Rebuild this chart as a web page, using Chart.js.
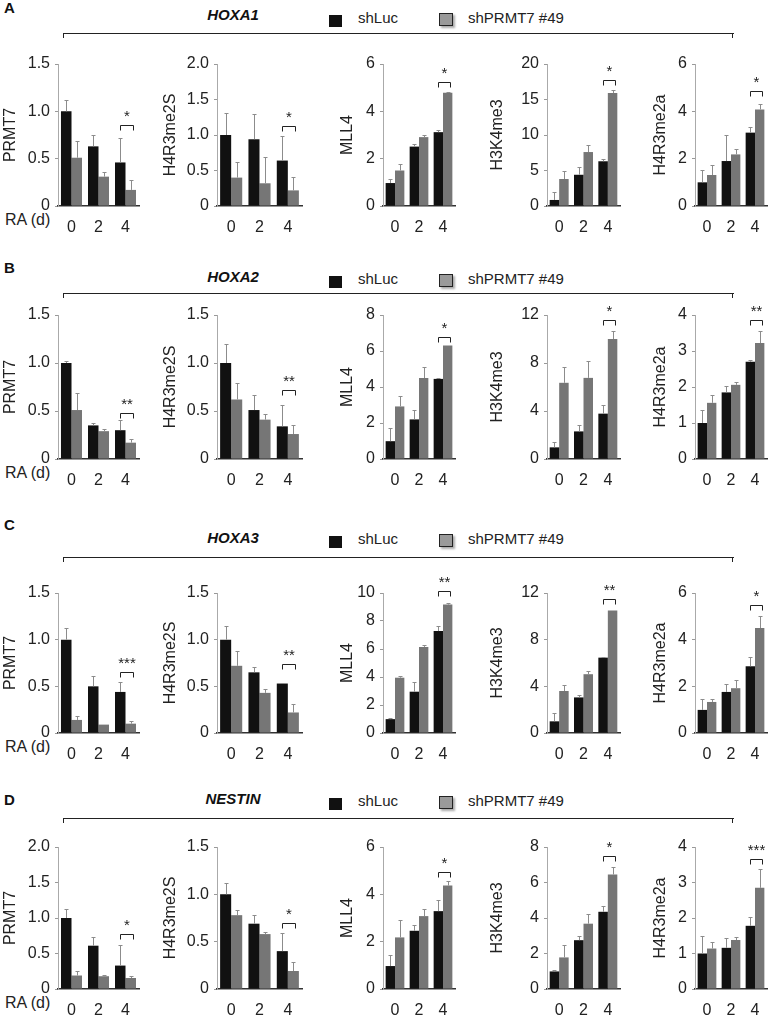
<!DOCTYPE html>
<html>
<head>
<meta charset="utf-8">
<script src="https://cdn.jsdelivr.net/npm/chart.js@4.4.0/dist/chart.umd.min.js"></script>
<style>
body { margin: 0; background: #fff; font-family: "Liberation Sans", Arial, sans-serif; color: #111; }
#page { position: relative; width: 770px; height: 1017px; overflow: hidden; }
.abs { position: absolute; white-space: nowrap; }
.letter { font-size: 15px; font-weight: bold; line-height: 16px; }
.gene { font-size: 15px; font-weight: bold; font-style: italic; line-height: 18px; transform: translateX(-50%); }
.legtxt { font-size: 15px; line-height: 18px; color: #222; }
.sqBlack { width: 13px; height: 12px; background: #111; }
.sqGray { width: 12px; height: 11px; background: #9a9a9a; border: 1.5px solid #222; box-shadow: 2px 2px 2px #aaa; }
.hline { height: 0; border-top: 1.5px solid #222; }
.vtick { width: 0; height: 5px; border-left: 1.5px solid #222; }
.ra { font-size: 16px; line-height: 19px; color: #222; }
</style>
</head>
<body>
<div id="page"></div>
<script>
const days = ['0', '2', '4'];
const genes = ['HOXA1', 'HOXA2', 'HOXA3', 'NESTIN'];
const panelLetters = ['A', 'B', 'C', 'D'];
const marks = ['PRMT7', 'H4R3me2S', 'MLL4', 'H3K4me3', 'H4R3me2a'];
const seriesNames = ['shLuc', 'shPRMT7 #49'];

// means per mark (rows: PRMT7, H4R3me2S, MLL4, H3K4me3, H4R3me2a), days 0/2/4
const lucHOXA1 = [[1.0, 0.63, 0.46], [1.0, 0.94, 0.64], [0.97, 2.51, 3.12], [0.85, 4.4, 6.3], [1.0, 1.9, 3.1]];
const kdHOXA1  = [[0.51, 0.31, 0.17], [0.40, 0.32, 0.22], [1.5, 2.91, 4.78], [3.8, 7.6, 15.9], [1.31, 2.18, 4.08]];
const lucErrHOXA1 = [[0.12, 0.12, 0.26], [0.31, 0.35, 0.35], [0.18, 0.09, 0.11], [1.15, 1.1, 0.35], [0.53, 1.08, 0.25]];
const kdErrHOXA1  = [[0.18, 0.05, 0.10], [0.22, 0.37, 0.19], [0.28, 0.11, 0.05], [1.1, 1.0, 0.4], [0.43, 0.21, 0.21]];

const lucHOXA2 = [[1.0, 0.35, 0.30], [1.0, 0.51, 0.34], [0.99, 2.2, 4.45], [0.97, 2.3, 3.78], [1.0, 1.85, 2.7]];
const kdHOXA2  = [[0.51, 0.29, 0.17], [0.62, 0.41, 0.26], [2.92, 4.5, 6.3], [6.35, 6.76, 10.0], [1.56, 2.06, 3.22]];
const lucErrHOXA2 = [[0.02, 0.02, 0.11], [0.2, 0.16, 0.22], [0.76, 0.5, 0.05], [0.46, 0.5, 0.69], [0.37, 0.19, 0.06]];
const kdErrHOXA2  = [[0.18, 0.02, 0.04], [0.17, 0.06, 0.09], [0.58, 0.6, 0.0], [1.35, 1.44, 0.7], [0.23, 0.09, 0.34]];

const lucHOXA3 = [[1.0, 0.5, 0.44], [1.0, 0.65, 0.53], [0.99, 2.95, 7.28], [1.0, 3.05, 6.46], [0.99, 1.76, 2.86]];
const kdHOXA3  = [[0.14, 0.09, 0.10], [0.72, 0.43, 0.22], [3.95, 6.15, 9.17], [3.6, 5.04, 10.5], [1.33, 1.92, 4.5]];
const lucErrHOXA3 = [[0.13, 0.11, 0.11], [0.15, 0.06, 0.01], [0.11, 0.71, 0.36], [0.7, 0.22, 0.04], [0.45, 0.36, 0.4]];
const kdErrHOXA3  = [[0.04, 0.0, 0.03], [0.16, 0.04, 0.09], [0.15, 0.11, 0.13], [0.5, 0.26, 0.0], [0.14, 0.35, 0.51]];

const lucNESTIN = [[1.0, 0.61, 0.33], [1.0, 0.69, 0.40], [0.97, 2.46, 3.29], [0.99, 2.75, 4.35], [1.0, 1.16, 1.78]];
const kdNESTIN  = [[0.19, 0.18, 0.155], [0.78, 0.58, 0.19], [2.18, 3.08, 4.37], [1.78, 3.68, 6.45], [1.14, 1.38, 2.85]];
const lucErrNESTIN = [[0.12, 0.12, 0.29], [0.12, 0.09, 0.19], [0.45, 0.23, 0.45], [0.09, 0.25, 0.34], [0.49, 0.27, 0.26]];
const kdErrNESTIN  = [[0.06, 0.02, 0.03], [0.05, 0.02, 0.10], [0.74, 0.31, 0.21], [0.72, 0.52, 0.44], [0.18, 0.09, 0.53]];

// y axis max / tick step per panel and mark
const yMax  = [[1.5, 2.0, 6, 20, 6], [1.5, 1.5, 8, 12, 4], [1.5, 1.5, 10, 12, 6], [2.0, 1.5, 6, 8, 4]];
const yStep = [[0.5, 0.5, 2, 5, 2], [0.5, 0.5, 2, 4, 1], [0.5, 0.5, 2, 4, 2], [0.5, 0.5, 2, 2, 1]];

// significance on day 4: stars and the level of the bracket (data units)
const sigStars = [['*', '*', '*', '*', '*'], ['**', '**', '*', '*', '**'], ['***', '**', '**', '**', '*'], ['*', '*', '*', '*', '***']];
const sigLevel = [[0.855, 1.13, 5.22, 17.8, 4.87], [0.48, 0.72, 6.8, 11.6, 3.86], [0.65, 0.74, 10.15, 11.45, 5.5], [0.77, 0.70, 4.96, 7.47, 3.67]];

const lucMeans = [lucHOXA1, lucHOXA2, lucHOXA3, lucNESTIN];
const kdMeans = [kdHOXA1, kdHOXA2, kdHOXA3, kdNESTIN];
const lucErrs = [lucErrHOXA1, lucErrHOXA2, lucErrHOXA3, lucErrNESTIN];
const kdErrs = [kdErrHOXA1, kdErrHOXA2, kdErrHOXA3, kdErrNESTIN];

// layout
const colAxisX = [58, 217, 383, 547, 695];
const colEndX = [139, 302, 455, 620, 767];
const colTitleX = [10, 170, 347, 497, 660];
const panels = [
    { top: 64, zero: 206, letterY: 0, titleY: 6, legendY: 9, lineY: 33 },
    { top: 315, zero: 459, letterY: 260, titleY: 268, legendY: 270, lineY: 293 },
    { top: 593, zero: 733, letterY: 517, titleY: 529, legendY: 530, lineY: 557 },
    { top: 847, zero: 989, letterY: 792, titleY: 790, legendY: 792, lineY: 818 }
];

Chart.defaults.font.family = '"Liberation Sans", Arial, sans-serif';
const page = document.getElementById('page');

function addDiv(cls, left, top, text) {
    const d = document.createElement('div');
    d.className = 'abs ' + cls;
    d.style.left = left + 'px';
    d.style.top = top + 'px';
    if (text) d.textContent = text;
    page.appendChild(d);
    return d;
}

// error bars + significance bracket
const errSigPlugin = {
    id: 'sig',
    afterDatasetsDraw(chart, args, opts) {
        const ctx = chart.ctx;
        const y = chart.scales.y;
        ctx.save();
        ctx.lineWidth = 1;
        chart.data.datasets.forEach((ds, i) => {
            chart.getDatasetMeta(i).data.forEach((bar, j) => {
                const sd = ds.errors[j];
                if (!sd) return;
                const x = Math.round(bar.x) + 0.5;
                const yTop = Math.round(y.getPixelForValue(ds.data[j] + sd)) + 0.5;
                ctx.strokeStyle = '#8c8c8c';
                ctx.beginPath();
                ctx.moveTo(x, bar.y);
                ctx.lineTo(x, yTop);
                ctx.moveTo(x - 2, yTop);
                ctx.lineTo(x + 2, yTop);
                ctx.stroke();
            });
        });
        const b0 = chart.getDatasetMeta(0).data[2];
        const b1 = chart.getDatasetMeta(1).data[2];
        const ly = Math.round(y.getPixelForValue(opts.level)) + 0.5;
        const x1 = Math.round(b0.x) + 0.5;
        const x2 = Math.round(b1.x + 2) + 0.5;
        ctx.strokeStyle = '#222';
        ctx.beginPath();
        ctx.moveTo(x1, ly + 5);
        ctx.lineTo(x1, ly);
        ctx.lineTo(x2, ly);
        ctx.lineTo(x2, ly + 5);
        ctx.stroke();
        ctx.fillStyle = '#222';
        ctx.font = '15px "Liberation Sans", Arial, sans-serif';
        ctx.textAlign = 'center';
        ctx.textBaseline = 'bottom';
        ctx.fillText(opts.stars, (x1 + x2) / 2, ly - 1);
        ctx.restore();
    }
};

function makeChart(p, c) {
    const pan = panels[p];
    const padTop = 34, xH = 26;
    const left = colTitleX[c] - 9;
    const width = colEndX[c] + 4 - left;
    const height = padTop + (pan.zero - pan.top) + xH;
    const cv = document.createElement('canvas');
    cv.width = width;
    cv.height = height;
    cv.style.cssText = `position:absolute;left:${left}px;top:${pan.top - padTop}px;width:${width}px;height:${height}px;`;
    page.appendChild(cv);

    const frac = yMax[p][c] <= 2;
    new Chart(cv, {
        type: 'bar',
        data: {
            labels: days,
            datasets: [
                { label: seriesNames[0], data: lucMeans[p][c], errors: lucErrs[p][c], backgroundColor: '#111111',
                  categoryPercentage: 0.78, barPercentage: 1.0 },
                { label: seriesNames[1], data: kdMeans[p][c], errors: kdErrs[p][c], backgroundColor: '#767676',
                  categoryPercentage: 0.78, barPercentage: 1.0 }
            ]
        },
        options: {
            responsive: false,
            animation: false,
            devicePixelRatio: 1,
            layout: { padding: { top: padTop, right: 4, left: 0, bottom: 0 } },
            plugins: {
                legend: { display: false },
                tooltip: { enabled: false },
                sig: { stars: sigStars[p][c], level: sigLevel[p][c] }
            },
            scales: {
                x: {
                    grid: { display: false },
                    border: { color: '#333', width: 1.5 },
                    ticks: { color: '#222', font: { size: 16 }, padding: 4 },
                    afterFit: s => { s.height = xH; }
                },
                y: {
                    min: 0,
                    max: yMax[p][c],
                    ticks: {
                        stepSize: yStep[p][c],
                        color: '#222',
                        font: { size: 16 },
                        padding: 5,
                        callback: v => (v === 0 ? '0' : (frac ? v.toFixed(1) : String(v)))
                    },
                    grid: { drawOnChartArea: false, tickLength: 3, color: '#999' },
                    border: { color: '#aaa', width: 1 },
                    title: { display: true, text: marks[c], color: '#222', font: { size: 16 }, padding: 0 },
                    afterFit: s => { s.width = colAxisX[c] - left; }
                }
            }
        },
        plugins: [errSigPlugin]
    });
}

panels.forEach((pan, p) => {
    addDiv('letter', 4, pan.letterY, panelLetters[p]);
    addDiv('gene', 233, pan.titleY, genes[p]);
    addDiv('sqBlack', 329, pan.legendY + 6);
    addDiv('legtxt', 358, pan.legendY, seriesNames[0]);
    addDiv('sqGray', 439, pan.legendY + 4);
    addDiv('legtxt', 468, pan.legendY, seriesNames[1]);
    const line = addDiv('hline', 63, pan.lineY);
    line.style.width = '671px';
    addDiv('vtick', 63, pan.lineY);
    addDiv('vtick', 732, pan.lineY);
    addDiv('ra', 5, pan.zero + 4, 'RA (d)');
    for (let c = 0; c < marks.length; c++) makeChart(p, c);
});
</script>
</body>
</html>
